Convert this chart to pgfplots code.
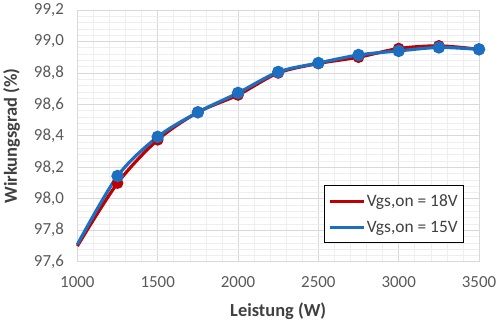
\documentclass[border=0pt]{standalone}
\usepackage{pgfplots}
\pgfplotsset{compat=1.18}
\usepackage{fontspec}
\setmainfont{Carlito}
\definecolor{myred}{RGB}{192,0,0}
\definecolor{myblue}{RGB}{28,110,192}
\definecolor{majgrid}{RGB}{217,217,217}
\definecolor{mingrid}{RGB}{238,238,238}
\definecolor{ticktext}{RGB}{89,89,89}
\definecolor{labeltext}{RGB}{64,64,64}
\begin{document}
\begin{tikzpicture}
\begin{axis}[
  at={(0,0)}, anchor=south west,
  scale only axis,
  width=402bp, height=252bp,
  xmin=1000, xmax=3500, ymin=97.6, ymax=99.2,
  xtick={1000,1500,...,3500},
  ytick={97.6,97.8,98.0,98.2,98.4,98.6,98.8,99.0,99.2},
  minor x tick num=4, minor y tick num=4,
  grid=both,
  major grid style={majgrid, line width=0.8pt},
  minor grid style={mingrid, line width=0.6pt},
  axis line style={majgrid, line width=0.8pt},
  tick style={draw=none},
  /pgf/number format/assume math mode=true,
  x tick label style={/pgf/number format/1000 sep={}},
  y tick label style={/pgf/number format/fixed, /pgf/number format/fixed zerofill, /pgf/number format/precision=1, /pgf/number format/use comma, xshift=-10bp},
  ticklabel style={font=\fontsize{17}{20}\selectfont, text=ticktext},
  xticklabel style={yshift=-11bp},
  xlabel={\textbf{Leistung (W)}},
  ylabel={\textbf{Wirkungsgrad (\%)}},
  label style={font=\fontsize{18.5}{22}\selectfont, text=labeltext},
  xlabel style={yshift=-9bp},
  ylabel style={yshift=7bp},
  legend style={at={(0.963,0.075)}, anchor=south east, draw=black, line width=0.8pt,
    font=\fontsize{17.5}{20}\selectfont, text=labeltext, row sep=9bp,
    inner xsep=4bp, inner ysep=7bp, fill=white},
  legend cell align=left,
  legend image code/.code={
    \draw[#1, line width=2.8pt] (0bp,0bp) -- (34bp,0bp);
    \draw[#1, mark=*, mark size=3.5pt, mark options={solid}] plot coordinates {(17bp,0bp)};
  },
  clip=false,
]
\addplot[myred, line width=3.2pt, smooth, tension=0.5, mark=*, mark size=4.2pt, mark indices={2,3,4,5,6,7,8,9,10,11}] coordinates {
(1000,97.70) (1250,98.10) (1500,98.375) (1750,98.55) (2000,98.66) (2250,98.80) (2500,98.86) (2750,98.90) (3000,98.955) (3250,98.972) (3500,98.95)
};
\addlegendentry{Vgs,on = 18V}
\addplot[myblue, line width=3.2pt, smooth, tension=0.5, mark=*, mark size=4.6pt, mark indices={2,3,4,5,6,7,8,9,10,11}] coordinates {
(1000,97.71) (1250,98.145) (1500,98.394) (1750,98.55) (2000,98.673) (2250,98.806) (2500,98.863) (2750,98.914) (3000,98.94) (3250,98.962) (3500,98.95)
};
\addlegendentry{Vgs,on = 15V}
\end{axis}
\path[use as bounding box] (-77bp,-63bp) rectangle (423bp,262bp);
\end{tikzpicture}
\end{document}
